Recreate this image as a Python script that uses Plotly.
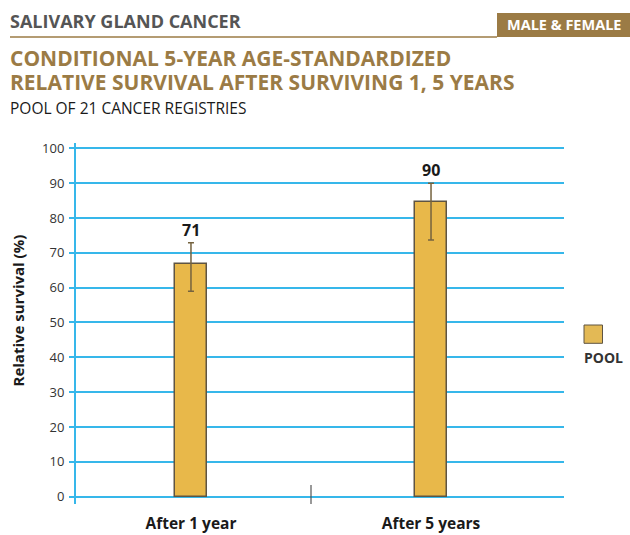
import plotly.graph_objects as go

# ---- data ----
categories = ["After 1 year", "After 5 years"]
survival = [66.7, 84.7]
ci_lower = [59.0, 73.7]
ci_upper = [72.9, 90.0]
value_labels = ["71", "90"]
y_ticks = [0, 10, 20, 30, 40, 50, 60, 70, 80, 90, 100]

W, H = 630, 535
L, R, T, B = 76, 66, 143, 31
PW, PH = W - L - R, H - T - B


def px(x):
    return (x - L) / PW


def py(y):
    return (H - B - y) / PH


TAN = "#9b7b45"
BLUE = "#36b7ea"
FONT = "Open Sans"

fig = go.Figure()
xs = list(range(len(categories)))
fig.add_trace(go.Bar(
    x=xs, y=survival, width=0.133,
    marker=dict(color="#e8b84a", line=dict(color="#5e5443", width=1.5)),
    error_y=dict(type="data", symmetric=False,
                 array=[u - v for u, v in zip(ci_upper, survival)],
                 arrayminus=[v - l for l, v in zip(ci_lower, survival)],
                 color="#75633f", thickness=1.5, width=3),
    showlegend=False, hoverinfo="skip",
))

annotations = []
for x, up, lab in zip(xs, ci_upper, value_labels):
    annotations.append(dict(x=x, y=up, xref="x", yref="y", text=lab, showarrow=False,
                            yanchor="middle", yshift=13,
                            font=dict(family=FONT, size=16, color="#1a1a1a", weight="bold")))

# header texts
annotations += [
    dict(x=px(8), y=py(20.5), xref="paper", yref="paper", text="SALIVARY GLAND CANCER",
         showarrow=False, xanchor="left", yanchor="middle",
         font=dict(family=FONT, size=18, color="#555555", weight="bold")),
    dict(x=px(564), y=py(24), xref="paper", yref="paper", text="MALE & FEMALE",
         showarrow=False, xanchor="center", yanchor="middle",
         font=dict(family=FONT, size=14.5, color="#ffffff", weight="bold")),
    dict(x=px(8), y=py(58.5), xref="paper", yref="paper", text="CONDITIONAL 5-YEAR AGE-STANDARDIZED",
         showarrow=False, xanchor="left", yanchor="middle",
         font=dict(family=FONT, size=21, color=TAN, weight="bold")),
    dict(x=px(8), y=py(82.5), xref="paper", yref="paper",
         text="RELATIVE SURVIVAL AFTER SURVIVING 1, 5 YEARS",
         showarrow=False, xanchor="left", yanchor="middle",
         font=dict(family=FONT, size=21, color=TAN, weight="bold")),
    dict(x=px(8), y=py(108), xref="paper", yref="paper", text="POOL OF 21 CANCER REGISTRIES",
         showarrow=False, xanchor="left", yanchor="middle",
         font=dict(family=FONT, size=15.5, color="#1a1a1a")),
    dict(x=px(17), y=py(310.5), xref="paper", yref="paper", text="Relative survival (%)",
         showarrow=False, textangle=-90, xanchor="center", yanchor="middle",
         font=dict(family=FONT, size=15, color="#1a1a1a", weight="bold")),
    dict(x=px(582), y=py(357.5), xref="paper", yref="paper", text="POOL",
         showarrow=False, xanchor="left", yanchor="middle",
         font=dict(family=FONT, size=14, color="#333333", weight="bold")),
]

shapes = [
    dict(type="line", xref="paper", yref="paper", x0=px(10), x1=px(497), y0=py(37), y1=py(37),
         line=dict(color=TAN, width=1.5)),
    dict(type="rect", xref="paper", yref="paper", x0=px(497), x1=px(630), y0=py(37), y1=py(13),
         fillcolor=TAN, line=dict(width=0)),
    dict(type="rect", xref="paper", yref="paper", x0=px(584), x1=px(602.5), y0=py(343.3), y1=py(325),
         fillcolor="#e3b955", line=dict(color="#5e5443", width=1)),
    dict(type="line", xref="x", yref="paper", x0=0.5, x1=0.5, y0=0, y1=py(485),
         line=dict(color="#555555", width=1.2)),
]

fig.update_layout(
    width=W, height=H,
    margin=dict(l=L, r=R, t=T, b=B),
    paper_bgcolor="white", plot_bgcolor="white",
    xaxis=dict(range=[-0.479, 1.554], tickvals=xs, ticktext=categories,
               showgrid=False, zeroline=False, showline=False, automargin=False,
               ticks="outside", ticklen=5, tickcolor="rgba(0,0,0,0)",
               tickfont=dict(family=FONT, size=15.5, color="#1a1a1a", weight="bold")),
    yaxis=dict(range=[-2.1, 101.52], tickvals=y_ticks, automargin=False,
               showgrid=True, gridcolor=BLUE, gridwidth=1.5,
               zeroline=False, showline=True, linecolor=BLUE, linewidth=2,
               ticks="outside", ticklen=5, tickcolor=BLUE, tickwidth=1.5,
               ticklabelstandoff=2,
               tickfont=dict(family=FONT, size=13, color="#333333")),
    annotations=annotations, shapes=shapes,
    bargap=0,
)

fig.write_html("out.html", config={"displayModeBar": False},
               post_script="document.body.style.margin='0';document.body.style.overflow='hidden';")
